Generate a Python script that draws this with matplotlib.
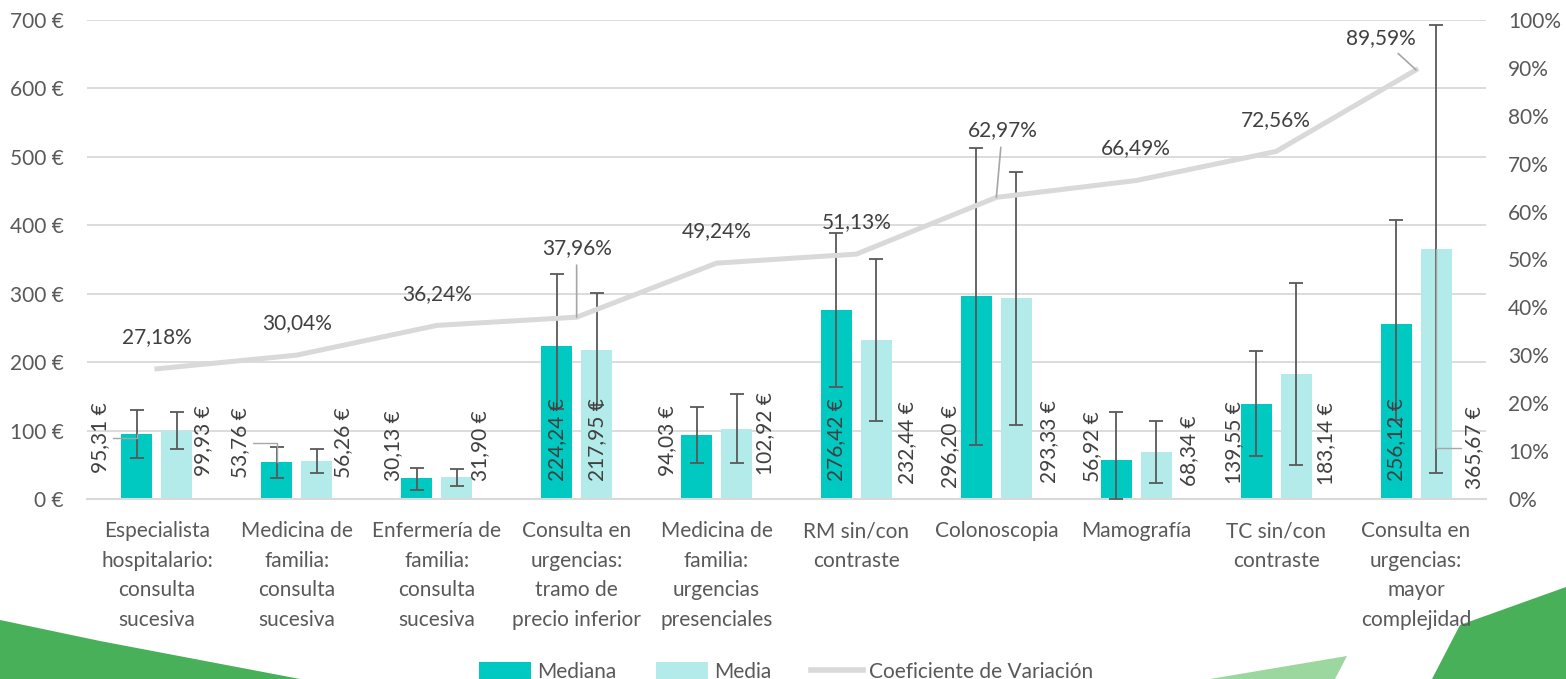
import matplotlib
matplotlib.use("Agg")
import matplotlib.pyplot as plt
import matplotlib.transforms as mt
from matplotlib.patches import Polygon, Patch
from matplotlib.lines import Line2D
import numpy as np

plt.rcParams['font.family'] = ['Lato', 'DejaVu Sans']

# ---------------- data ----------------
categories = [
    "Especialista\nhospitalario:\nconsulta\nsucesiva",
    "Medicina de\nfamilia:\nconsulta\nsucesiva",
    "Enfermería de\nfamilia:\nconsulta\nsucesiva",
    "Consulta en\nurgencias:\ntramo de\nprecio inferior",
    "Medicina de\nfamilia:\nurgencias\npresenciales",
    "RM sin/con\ncontraste",
    "Colonoscopia",
    "Mamografía",
    "TC sin/con\ncontraste",
    "Consulta en\nurgencias:\nmayor\ncomplejidad",
]
mediana = [95.31, 53.76, 30.13, 224.24, 94.03, 276.42, 296.20, 56.92, 139.55, 256.12]
media = [99.93, 56.26, 31.90, 217.95, 102.92, 232.44, 293.33, 68.34, 183.14, 365.67]
cv = [27.18, 30.04, 36.24, 37.96, 49.24, 51.13, 62.97, 66.49, 72.56, 89.59]

# error-bar ends (low, high)
mediana_low = [60, 31, 13, 132, 53, 164, 79, 0, 63, 115]
mediana_high = [130, 76, 45, 329, 134, 389, 513, 127, 216, 408]
media_low = [73, 38, 19, 137, 53, 114, 108, 23, 50, 38]
media_high = [127, 73, 44, 301, 153, 351, 478, 114, 316, 693]

y_ticks = [0, 100, 200, 300, 400, 500, 600, 700]
y2_ticks = [0, 10, 20, 30, 40, 50, 60, 70, 80, 90, 100]

# ---------------- layout / style ----------------
TEAL = "#00C9C1"
LIGHT = "#B3EBEA"
GRID = "#D9D9D9"
TICK_C = "#595959"
LBL_C = "#404040"
ERR_C = "#595959"
LEADER_C = "#A6A6A6"
FS = 15

W, H = 1566, 679
fig = plt.figure(figsize=(W / 100, H / 100), dpi=100)
ax = fig.add_axes([87 / W, (H - 499) / H, (1486 - 87) / W, (499 - 20) / H])
ax2 = ax.twinx()

x = np.arange(len(categories))
bw = 31 / 140
off = 20 / 140

ax.set_xlim(-0.5, len(categories) - 0.5)
ax.set_ylim(0, 700)
ax2.set_ylim(0, 100)

ax.bar(x - off, mediana, width=bw, color=TEAL, zorder=2)
ax.bar(x + off, media, width=bw, color=LIGHT, zorder=2)

med = np.array(mediana); mea = np.array(media)
ax.errorbar(x - off, med, yerr=[med - np.array(mediana_low), np.array(mediana_high) - med],
            fmt='none', ecolor=ERR_C, elinewidth=1.3, capsize=5, capthick=1.3, zorder=3)
ax.errorbar(x + off, mea, yerr=[mea - np.array(media_low), np.array(media_high) - mea],
            fmt='none', ecolor=ERR_C, elinewidth=1.3, capsize=5, capthick=1.3, zorder=3)

# grid
ax.set_yticks(y_ticks)
ax.set_yticklabels([f"{v} €" for v in y_ticks])
ax.yaxis.grid(True, color=GRID, lw=1.3, zorder=0)
ax.set_axisbelow(True)
for s in ["top", "right", "left"]:
    ax.spines[s].set_visible(False)
ax.spines["bottom"].set_color(GRID)
ax.spines["bottom"].set_linewidth(1.5)
for s in ax2.spines.values():
    s.set_visible(False)

ax.tick_params(axis='y', length=0, pad=17, labelsize=FS, labelcolor=TICK_C)
ax.set_xticks(x)
ax.set_xticklabels(categories, fontsize=FS, color=TICK_C, linespacing=1.6,
                   multialignment='center')
ax.tick_params(axis='x', length=0, pad=16)

ax2.set_yticks(y2_ticks)
ax2.set_yticklabels([f"{v}%" for v in y2_ticks])
ax2.tick_params(axis='y', length=0, pad=16, labelsize=FS, labelcolor=TICK_C)

# CV line
ax2.plot(x, cv, color=GRID, lw=3.6, solid_joinstyle='miter', zorder=4)

# bar value labels (rotated)
LABEL_Y = 82
med_dx = [-37, -37, -24, 0, -29, 0, -26, -24, -22, 0]
med_dy = [5, 0, -3, 3, 2, 3, -4, -4, 0, 3]
mea_dx = [26, 26, 23, 0, 29, 31, 33, 33, 30, 38]
mea_dy = [2, 0, -3, 3, 9, 0, 1, -8, -1, -5]
leader_med = {0, 1}
leader_mea = {9}


def fmt_eur(v):
    return f"{v:.2f}".replace('.', ',') + " €"


for i in range(len(categories)):
    for vals, dxs, dys, xo, leaders in ((mediana, med_dx, med_dy, -off, leader_med),
                                         (media, mea_dx, mea_dy, off, leader_mea)):
        xb = x[i] + xo
        if i in leaders:
            tr = mt.offset_copy(ax.transData, fig=fig, x=dxs[i], y=dys[i], units='dots')
            ax.annotate(fmt_eur(vals[i]), xy=(xb, vals[i]), xycoords='data',
                        xytext=(xb, LABEL_Y), textcoords=tr,
                        rotation=90, ha='center', va='center', fontsize=FS,
                        color=LBL_C, zorder=5,
                        arrowprops=dict(arrowstyle='-', color=LEADER_C, lw=1,
                                        shrinkA=0, shrinkB=0,
                                        connectionstyle='angle,angleA=0,angleB=90,rad=0'))
        else:
            ax.annotate(fmt_eur(vals[i]), xy=(xb, LABEL_Y), xycoords='data',
                        xytext=(dxs[i], dys[i]), textcoords='offset pixels',
                        rotation=90, ha='center', va='center', fontsize=FS,
                        color=LBL_C, zorder=5)

# CV labels
cv_dx = [0, 0, 0, 0, 0, 0, 6, 0, 0, -35]
cv_dy = [32, 32, 31, 69, 32, 32, 67, 32, 31, 32]
cv_leader = {3, 6, 9}
for i, v in enumerate(cv):
    txt = f"{v:.2f}%".replace('.', ',')
    kw = {}
    if i in cv_leader:
        kw['arrowprops'] = dict(arrowstyle='-', color=LEADER_C, lw=1.2, shrinkA=3, shrinkB=0)
    ax2.annotate(txt, xy=(x[i], v), xytext=(cv_dx[i], cv_dy[i]), textcoords='offset pixels',
                 ha='center', va='center', fontsize=FS, color=LBL_C, zorder=6, **kw)

# legend
handles = [Patch(facecolor=TEAL, edgecolor='none', label='Mediana'),
           Patch(facecolor=LIGHT, edgecolor='none', label='Media'),
           Line2D([0], [0], color=GRID, lw=4, label='Coeficiente de Variación')]
leg = fig.legend(handles=handles, loc='center', bbox_to_anchor=(786 / W, 7 / H), ncol=3,
                 frameon=False, fontsize=FS, handlelength=2.5, handleheight=0.9,
                 handletextpad=0.3, columnspacing=1.9, labelcolor=TICK_C)

# decorative green shapes
def fp(pts):
    return [(px / W, 1 - py / H) for px, py in pts]


fig.patches.append(Polygon(fp([(0, 620), (100, 641), (200, 660), (300, 679), (0, 679)]),
                           closed=True, transform=fig.transFigure, facecolor="#47B058",
                           edgecolor='none', zorder=-1))
fig.patches.append(Polygon(fp([(1460, 625), (1566, 587), (1566, 679), (1432, 679)]),
                           closed=True, transform=fig.transFigure, facecolor="#47B058",
                           edgecolor='none', zorder=-1))
fig.patches.append(Polygon(fp([(1210, 679), (1347, 656), (1335, 679)]),
                           closed=True, transform=fig.transFigure, facecolor="#9BD79F",
                           edgecolor='none', zorder=-1))

fig.savefig("out.png", dpi=100)
